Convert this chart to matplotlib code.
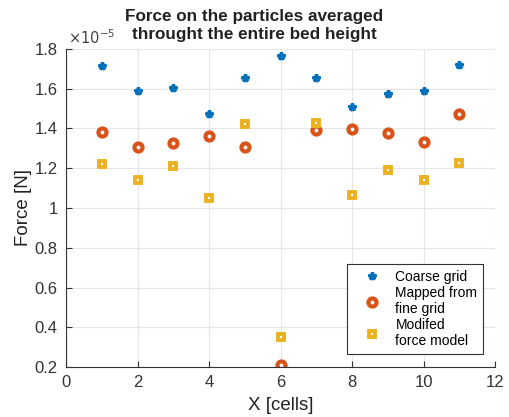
import matplotlib
matplotlib.use("Agg")
import matplotlib.pyplot as plt
from matplotlib.ticker import FuncFormatter

plt.rcParams['font.family'] = ['Liberation Sans', 'DejaVu Sans']

cells = [1, 2, 3, 4, 5, 6, 7, 8, 9, 10, 11]
coarse = [1.713, 1.590, 1.602, 1.475, 1.652, 1.766, 1.654, 1.507, 1.572, 1.590, 1.720]
mapped = [1.384, 1.309, 1.327, 1.364, 1.307, 0.21, 1.391, 1.399, 1.379, 1.332, 1.475]
modified = [1.222, 1.143, 1.213, 1.049, 1.421, 0.349, 1.426, 1.067, 1.191, 1.143, 1.227]
labels = ['Coarse grid', 'Mapped from\nfine grid', 'Modifed\nforce model']

fig = plt.figure(figsize=(5.09, 4.17), dpi=100)
ax = fig.add_axes([0.1297, 0.1199, 0.9725 - 0.1297, 0.8825 - 0.1199])

ax.plot(cells, coarse, linestyle='none', marker='*', markersize=5.5, markeredgewidth=2.3,
        color='#0072BD', label=labels[0])
ax.plot(cells, mapped, linestyle='none', marker='o', markersize=5.8, markeredgewidth=3.0,
        markerfacecolor='white', markeredgecolor='#D95319', label=labels[1])
ax.plot(cells, modified, linestyle='none', marker='s', markersize=4.8, markeredgewidth=2.8,
        markerfacecolor='white', markeredgecolor='#EDB120', label=labels[2])

ax.set_xlim(0, 12)
ax.set_ylim(0.2, 1.8)
ax.set_xticks(range(0, 13, 2))
ax.set_yticks([0.2, 0.4, 0.6, 0.8, 1.0, 1.2, 1.4, 1.6, 1.8])
ax.yaxis.set_major_formatter(FuncFormatter(lambda v, p: ('%g' % round(v, 2))))
ax.grid(True, color='#e6e6e6', linewidth=0.8)
ax.set_axisbelow(True)
for s in ['top', 'right']:
    ax.spines[s].set_visible(False)
for s in ['left', 'bottom']:
    ax.spines[s].set_color('#333333')
    ax.spines[s].set_linewidth(0.8)
ax.tick_params(direction='in', length=4, width=0.8, labelsize=12, colors='#333333',
               labelcolor='#333333', pad=6)

ax.set_xlabel('X [cells]', fontsize=13.5, color='#222222', labelpad=5)
ax.set_ylabel('Force [N]', fontsize=13.5, color='#222222', labelpad=2)
fig.text(0.5, 0.978, 'Force on the particles averaged\nthrought the entire bed height',
         ha='center', va='top', fontsize=12.3, fontweight='bold', color='#222222',
         linespacing=1.2)
ax.text(0.005, 1.005, r'$\times10^{-5}$', transform=ax.transAxes, ha='left', va='bottom',
        fontsize=10.5, color='#444444')

leg = ax.legend(loc='lower right', bbox_to_anchor=(0.972, 0.041), fontsize=10,
                frameon=True, fancybox=False, edgecolor='#333333', framealpha=1,
                handletextpad=0.3, labelspacing=0.15, borderpad=0.4, handlelength=2.8,
                borderaxespad=0)
leg.get_frame().set_linewidth(0.8)

fig.savefig('out.png', dpi=100)
